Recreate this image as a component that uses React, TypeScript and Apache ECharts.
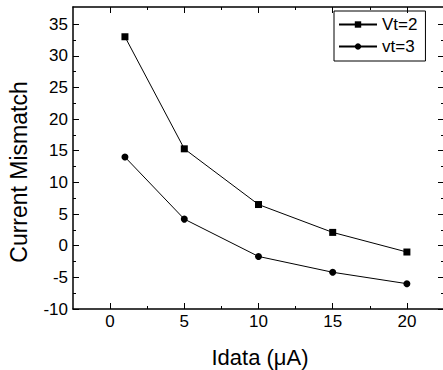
import React, { useEffect, useRef } from "react";
import * as echarts from "echarts";

const xValues = [1, 5, 10, 15, 20];
const vt2Values = [33, 15.3, 6.5, 2.1, -1.0];
const vt3Values = [14, 4.2, -1.7, -4.2, -6.0];
const xMajorTicks = [0, 5, 10, 15, 20];
const xMinorTicks = [2.5, 7.5, 12.5, 17.5];
const yMajorTicks = [-10, -5, 0, 5, 10, 15, 20, 25, 30, 35];
const yMinorTicks = [-7.5, -2.5, 2.5, 7.5, 12.5, 17.5, 22.5, 27.5, 32.5];
const seriesNames = ["Vt=2", "vt=3"];
const xTitle = "Idata (\u03bcA)";
const yTitle = "Current Mismatch";

const FONT = "'Liberation Sans', Arial, sans-serif";

export default function App() {
  const ref = useRef<HTMLDivElement>(null);
  useEffect(() => {
    if (!ref.current) return;
    document.body.style.overflow = "hidden";
    const chart = echarts.init(ref.current, null, { renderer: "svg" });
    const lineStyle = { color: "#000", width: 1.5 };
    const xBase = { type: "value", min: -2.5, max: 22.5, splitLine: { show: false } };
    const yBase = { type: "value", min: -10, max: 37.7, splitLine: { show: false } };
    const mk = (base: any, position: string, major: boolean, showLine: boolean, labels: boolean) => ({
      ...base,
      position,
      axisLine: { show: showLine, onZero: false, lineStyle },
      axisTick: {
        show: true,
        inside: true,
        length: major ? 6 : 3,
        customValues: major ? (base.max > 30 ? yMajorTicks : xMajorTicks) : base.max > 30 ? yMinorTicks : xMinorTicks,
        lineStyle: { color: "#000", width: 1 },
      },
      axisLabel: labels
        ? {
            show: true,
            customValues: base.max > 30 ? yMajorTicks : xMajorTicks,
            color: "#000",
            fontSize: 17,
            fontFamily: FONT,
            margin: base.max > 30 ? 5 : 4,
          }
        : { show: false },
    });
    chart.setOption({
      animation: false,
      backgroundColor: "#fff",
      grid: { left: 73, top: 7, right: 3, bottom: 61, containLabel: false },
      xAxis: [
        mk(xBase, "bottom", true, true, true),
        mk(xBase, "bottom", false, false, false),
        mk(xBase, "top", true, true, false),
        mk(xBase, "top", false, false, false),
      ],
      yAxis: [
        mk(yBase, "left", true, true, true),
        mk(yBase, "left", false, false, false),
        mk(yBase, "right", true, true, false),
        mk(yBase, "right", false, false, false),
      ],
      legend: {
        orient: "vertical",
        left: 334,
        top: 11,
        padding: [5, 8, 6, 4],
        itemGap: 5,
        itemWidth: 38,
        itemHeight: 8,
        borderColor: "#000",
        borderWidth: 1,
        textStyle: { fontSize: 17, color: "#000", fontFamily: FONT },
        data: seriesNames,
      },
      graphic: [
        {
          type: "text",
          x: 19,
          y: 172,
          rotation: Math.PI / 2,
          style: {
            text: yTitle,
            fontSize: 23,
            fontFamily: FONT,
            fill: "#000",
            textAlign: "center",
            textVerticalAlign: "middle",
          },
        },
        {
          type: "text",
          x: 260,
          y: 357,
          style: {
            text: xTitle,
            fontSize: 22,
            fontFamily: FONT,
            fill: "#000",
            textAlign: "center",
            textVerticalAlign: "middle",
          },
        },
      ],
      series: [
        {
          name: seriesNames[0],
          type: "line",
          xAxisIndex: 0,
          yAxisIndex: 0,
          symbol: "rect",
          symbolSize: 7,
          data: xValues.map((x, i) => [x, vt2Values[i]]),
          lineStyle: { color: "#000", width: 1 },
          itemStyle: { color: "#000" },
        },
        {
          name: seriesNames[1],
          type: "line",
          xAxisIndex: 0,
          yAxisIndex: 0,
          symbol: "circle",
          symbolSize: 7,
          data: xValues.map((x, i) => [x, vt3Values[i]]),
          lineStyle: { color: "#000", width: 1 },
          itemStyle: { color: "#000" },
        },
      ],
    });
    return () => chart.dispose();
  }, []);
  return (
    <div
      ref={ref}
      style={{ position: "absolute", left: 0, top: 0, width: 447, height: 370 }}
    />
  );
}
